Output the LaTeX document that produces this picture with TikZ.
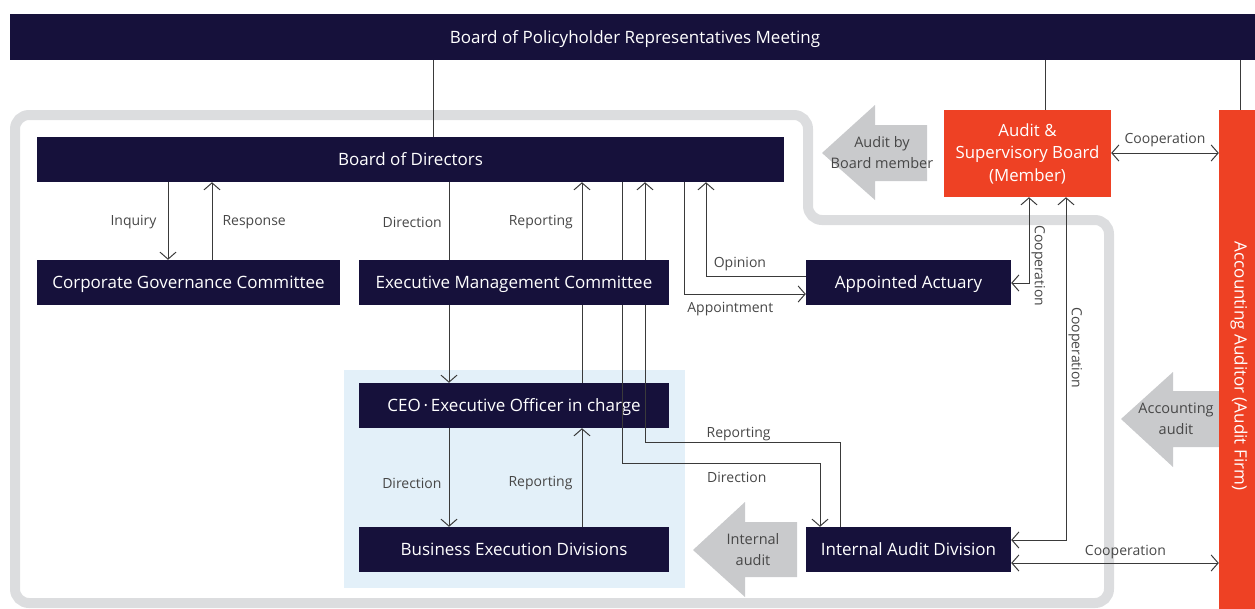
\documentclass[tikz,border=0pt]{standalone}
\usepackage{fontspec}
\setmainfont{Open Sans}
\usepackage{tikz}
\usetikzlibrary{arrows.meta,positioning,calc}
\definecolor{hdnavy}{HTML}{16113B}
\definecolor{hdred}{HTML}{EE4124}
\definecolor{hdframe}{HTML}{DCDDDF}
\definecolor{hdarrow}{HTML}{C9CACC}
\definecolor{hdblue}{HTML}{E3F0F9}
\definecolor{hdline}{HTML}{3A3A3A}
\definecolor{hdtext}{HTML}{474747}
\def\boxfont{\fontsize{17}{20}\selectfont}
\def\lblfont{\fontsize{14}{17}\selectfont}

\begin{document}
\begin{tikzpicture}[x=1pt,y=-1pt]
		\tikzstyle{box} = [fill=hdnavy,text=white,minimum height=45pt,inner sep=0pt,text height=12pt,text depth=0pt,font=\boxfont]
		\tikzstyle{redbox} = [fill=hdred,text=white,inner sep=0pt,align=center,font=\fontsize{16.8}{22.5}\selectfont]
		\tikzstyle{flow} = [draw=hdline,line width=1pt,-{Straight Barb[length=7pt,width=16pt]}]
		\tikzstyle{coop} = [draw=hdline,line width=1pt,{Straight Barb[length=7pt,width=16pt]}-{Straight Barb[length=7pt,width=16pt]}]
		\tikzstyle{link} = [draw=hdline,line width=.8pt]
		\tikzstyle{lbl} = [text=hdtext,font=\lblfont,inner sep=2pt]
		\tikzstyle{blockarrow} = [fill=hdarrow]
		\useasboundingbox (0,0) rectangle (1255,608);
		% outer frame and the executive area
		\draw[hdframe,line width=10pt,rounded corners=14pt] (15,115) -- (808,115) -- (808,220)
		-- (1109,220) -- (1109,603) -- (15,603) -- cycle;
		\fill[hdblue] (344,370) rectangle (685,588);
		% grey block arrows
		\fill[blockarrow] (822,153) -- (875,105) -- (875,125) -- (927,125) -- (927,181) -- (875,181) -- (875,200) -- cycle;
		\fill[blockarrow] (1121,419) -- (1173,372) -- (1173,391) -- (1225,391) -- (1225,447) -- (1173,447) -- (1173,467) -- cycle;
		\fill[blockarrow] (693,550) -- (745,502) -- (745,522) -- (797,522) -- (797,577) -- (745,577) -- (745,597) -- cycle;
		\node[lbl,align=center,font=\fontsize{14.5}{21}\selectfont] (boardaudit) at (882,153) {Audit by\\Board member};
		\node[lbl,align=center,font=\fontsize{14.5}{21}\selectfont] (acctaudit) at (1176,419) {Accounting\\audit};
		\node[lbl,align=center,font=\fontsize{14.5}{21}\selectfont] (intaudit) at (753,550) {Internal\\audit};
		% bodies
		\node[box,minimum width=1250pt,minimum height=46pt] (meeting) at (635,37) {Board of Policyholder Representatives Meeting};
		\node[box,minimum width=747pt] (bod) at (410.5,159.5) {Board of Directors};
		\node[box,minimum width=303pt] (cgc) at (188.5,282.5) {Corporate Governance Committee};
		\node[box,minimum width=205pt] (actuary) at (908.5,282.5) {Appointed Actuary};
		\node[box,minimum width=310pt] (ceo) at (514,405.5) {CEO\,·\,Executive Officer in charge};
		\node[box,minimum width=310pt] (bed) at (514,549.5) {Business Execution Divisions};
		\node[box,minimum width=205pt] (iad) at (908.5,549.5) {Internal Audit Division};
		\node[redbox,minimum width=167pt,minimum height=87pt] (asb) at (1027.5,153.5) {Audit \&\\Supervisory Board\\(Member)};
		\node[redbox,minimum width=40pt,minimum height=512pt] (auditor) at (1239,366) {};
		\node[text=white,rotate=-90,font=\boxfont] (auditortext) at (auditor.center) {Accounting Auditor (Audit Firm)};
		% columns and rows of the connectors
		\coordinate (c0) at (433,0);
		\coordinate (c1) at (168,0);
		\coordinate (c2) at (212,0);
		\coordinate (c3) at (449,0);
		\coordinate (c4) at (582,0);
		\coordinate (c5) at (622,0);
		\coordinate (c6) at (645,0);
		\coordinate (c7) at (684,0);
		\coordinate (c8) at (706,0);
		\coordinate (c9) at (820,0);
		\coordinate (c10) at (840,0);
		\coordinate (c11) at (1029,0);
		\coordinate (c12) at (1066,0);
		\coordinate (c13) at (1045,0);
		\coordinate (c14) at (1240,0);
		\coordinate (r1) at (0,463);
		\coordinate (r2) at (0,442);
		\coordinate (r3) at (0,294);
		\coordinate (r4) at (0,276);
		\coordinate (r5) at (0,283);
		\coordinate (r6) at (0,540);
		\coordinate (r7) at (0,153);
		\coordinate (r8) at (0,563);
		% connectors
		\draw[link] (meeting.south -| c0) -- (bod.north -| c0);
		\draw[link] (meeting.south -| c13) -- (asb.north -| c13);
		\draw[link] (meeting.south -| c14) -- (auditor.north -| c14);
		\draw[flow] (bod.south -| c1) -- (cgc.north -| c1) node[midway,lbl,left=9pt,yshift=-1pt]{Inquiry};
		\draw[flow] (cgc.north -| c2) -- (bod.south -| c2) node[midway,lbl,right=8pt,yshift=-1pt]{Response};
		\draw[flow] (bod.south -| c3) -- (ceo.north -| c3);
		\draw[flow] (ceo.north -| c4) -- (bod.south -| c4);
		\draw[flow] (ceo.south -| c3) -- (bed.north -| c3) node[midway,lbl,left=5pt,yshift=-6pt]{Direction};
		\draw[flow] (bed.north -| c4) -- (ceo.south -| c4) node[midway,lbl,left=7pt,yshift=-6pt]{Reporting};
		\draw[flow] (bod.south -| c5) |- (r1 -| c9) node[pos=.79,lbl,below=7pt]{Direction} -- (iad.north -| c9);
		\draw[flow] (iad.north -| c10) |- (r2 -| c6) node[pos=.76,lbl,above=-1pt]{Reporting} -- (bod.south -| c6);
		\draw[flow] (bod.south -| c7) |- (actuary.west |- r3) node[pos=.69,lbl,below=6pt]{Appointment};
		\draw[flow] (actuary.west |- r4) -| (bod.south -| c8) node[pos=.33,lbl,above=3pt]{Opinion};
		\draw[coop] (actuary.east |- r5) -| (asb.south -| c11) node[pos=.6,lbl,rotate=-90,anchor=south]{Cooperation};
		\draw[coop] (iad.east |- r6) -| (asb.south -| c12) node[pos=.78,lbl,rotate=-90,anchor=south]{Cooperation};
		\draw[coop] (asb.east |- r7) -- (auditor.west |- r7) node[midway,lbl,above=4pt]{Cooperation};
		\draw[coop] (iad.east |- r8) -- (auditor.west |- r8) node[pos=.55,lbl,above=2pt]{Cooperation};
		% labels between the Board of Directors and the committee
		\node[lbl,anchor=east] (dirlbl) at ($(bod.south -| c3)+(-5,40)$) {Direction};
		\node[lbl,anchor=east] (replbl) at ($(bod.south -| c4)+(-7,40)$) {Reporting};
		% the committee sits over the lines that pass behind it
		\node[box,minimum width=310pt] (emc) at (514,282.5) {Executive Management Committee};
\end{tikzpicture}
\end{document}
